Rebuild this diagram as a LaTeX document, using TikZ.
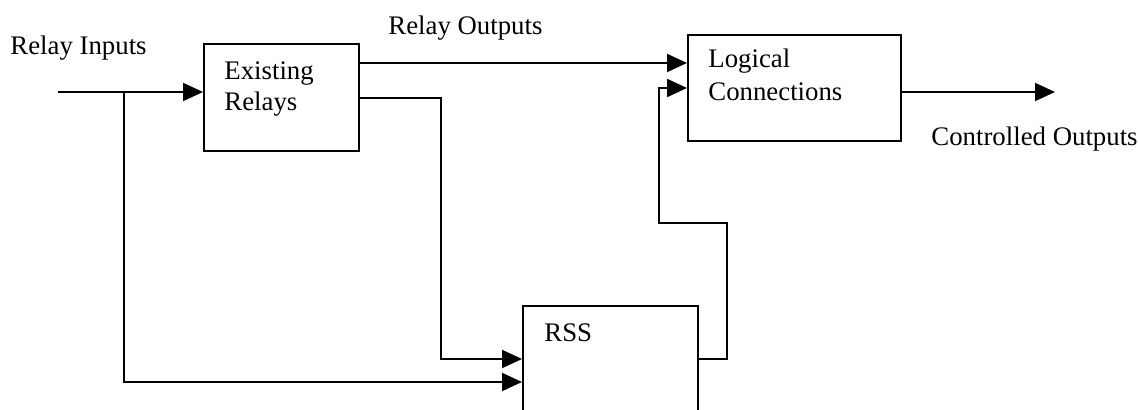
\documentclass[tikz,border=0pt]{standalone}
\usepackage{fontspec}
\setmainfont{Liberation Serif}
\usetikzlibrary{arrows.meta}
\begin{document}
\begin{tikzpicture}[x=0.5pt,y=-0.5pt,
  box/.style={draw,line width=1pt,rectangle,inner sep=0pt},
  lbl/.style={font=\fontsize{13.4}{15}\selectfont,inner sep=0pt,anchor=base west},
  wire/.style={line width=1pt},
  arr/.style={wire,-{Triangle[length=10pt,width=9pt]}}]
\useasboundingbox (0,0) rectangle (1138,410);
\clip (0,0) rectangle (1138,410);
% boxes
\node[box,minimum width=77.5pt,minimum height=53.5pt] (ex) at (281.5,97.5) {};
\node[box,minimum width=106.5pt,minimum height=53pt] (lc) at (794.5,88) {};
\node[box,minimum width=87.5pt,minimum height=67pt] (rss) at (610.5,373) {};
% texts
\node[lbl] (tin) at (10,55) {Relay Inputs};
\node[lbl] (tout) at (388,35) {Relay Outputs};
\node[lbl] (tex1) at (224,80) {Existing};
\node[lbl] (tex2) at (224,110.5) {Relays};
\node[lbl] (tlc1) at (708,68) {Logical};
\node[lbl] (tlc2) at (708,101) {Connections};
\node[lbl] (tco) at (931,146) {Controlled Outputs};
\node[lbl] (trss) at (544,342) {RSS};
% coordinates
\coordinate (in) at (58,92);
\coordinate (br) at (124,92);
\coordinate (o1) at (359,63);
\coordinate (o2) at (359,98);
\coordinate (d2) at (441,98);
\coordinate (r1) at (523,359);
\coordinate (r2) at (523,382);
\coordinate (c1) at (688,88);
\coordinate (f1) at (727,359);
\coordinate (f2) at (727,223);
\coordinate (f3) at (659,223);
\coordinate (out) at (1055,92);
% connectors
\draw[arr] (in) -- (in -| ex.west);
\draw[arr] (br) |- (r2 -| rss.west);
\draw[arr] (o1 -| ex.east) -- (o1 -| lc.west);
\draw[arr] (o2 -| ex.east) -- (d2) |- (r1 -| rss.west);
\draw[arr] (out -| lc.east) -- (out);
\draw[arr] (f1 -| rss.east) -- (f1) -- (f2) -- (f3) |- (c1 -| lc.west);
\end{tikzpicture}
\end{document}
